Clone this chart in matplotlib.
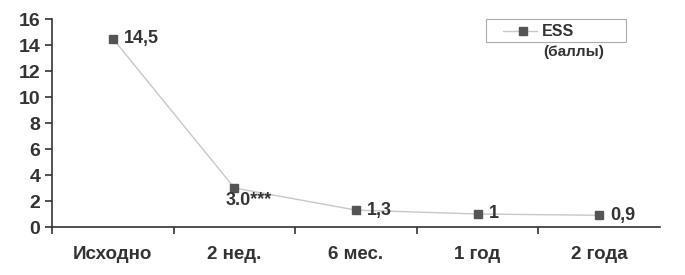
import matplotlib.pyplot as plt
from matplotlib.patches import Rectangle
from matplotlib.lines import Line2D

plt.rcParams['font.family'] = ['Liberation Sans', 'DejaVu Sans']
plt.rcParams['font.weight'] = 'bold'

categories = ["Исходно", "2 нед.", "6 мес.", "1 год", "2 года"]
ess = [14.5, 3.0, 1.3, 1.0, 0.9]
point_labels = ["14,5", "3.0***", "1,3", "1", "0,9"]
y_ticks = [0, 2, 4, 6, 8, 10, 12, 14, 16]

W, H = 685, 275
fig = plt.figure(figsize=(W / 100, H / 100), dpi=100)
ax = fig.add_axes([52 / W, 48 / H, 608 / W, 208 / H])

x = range(len(categories))
ax.plot(x, ess, color="#c8c8c8", lw=1, marker="s", markersize=5.5,
        markerfacecolor="#555555", markeredgecolor="#555555")

for i, (v, lab) in enumerate(zip(ess, point_labels)):
    if i == 1:
        ax.annotate(lab, (i, v), xytext=(-6, -3), textcoords="offset points",
                    ha="left", va="top", fontsize=13, color="#333333")
    else:
        ax.annotate(lab, (i, v), xytext=(8, 0), textcoords="offset points",
                    ha="left", va="center", fontsize=13, color="#333333")

ax.set_xlim(-0.5, len(categories) - 0.5)
ax.set_ylim(0, 16)
ax.set_yticks(y_ticks)
ax.set_xticks([i - 0.5 for i in range(len(categories))])
ax.set_xticklabels([])
ax.set_xticks(list(x), minor=True)
ax.set_xticklabels(categories, minor=True)
ax.tick_params(axis="x", which="minor", length=0, pad=14, labelsize=13.5, labelcolor="#333333")
ax.tick_params(axis="x", which="major", length=5, width=1.2, direction="out", color="#333333")
ax.tick_params(axis="y", length=5, width=1.2, labelsize=14, labelcolor="#333333", color="#333333")

for s in ["top", "right"]:
    ax.spines[s].set_visible(False)
for s in ["left", "bottom"]:
    ax.spines[s].set_color("#333333")
    ax.spines[s].set_linewidth(1.2)

# legend box drawn by hand (the label spills below the frame in the original)
fig.add_artist(Rectangle((486 / W, 1 - 42 / H), 140 / W, 23 / H, transform=fig.transFigure,
                         facecolor="white", edgecolor="#aaaaaa", lw=0.8))
fig.add_artist(Line2D([503 / W, 537 / W], [1 - 31 / H] * 2, transform=fig.transFigure,
                      color="#c8c8c8", lw=1))
fig.add_artist(Line2D([523 / W], [1 - 31 / H], transform=fig.transFigure, marker="s",
                      markersize=5.5, color="#555555"))
fig.text(542 / W, 1 - 31 / H, "ESS", fontsize=11.5, color="#333333", va="center", ha="left")
fig.text(543 / W, 1 - 52 / H, "(баллы)", fontsize=11, color="#333333", va="center", ha="left")

fig.savefig("out.png", dpi=100)
